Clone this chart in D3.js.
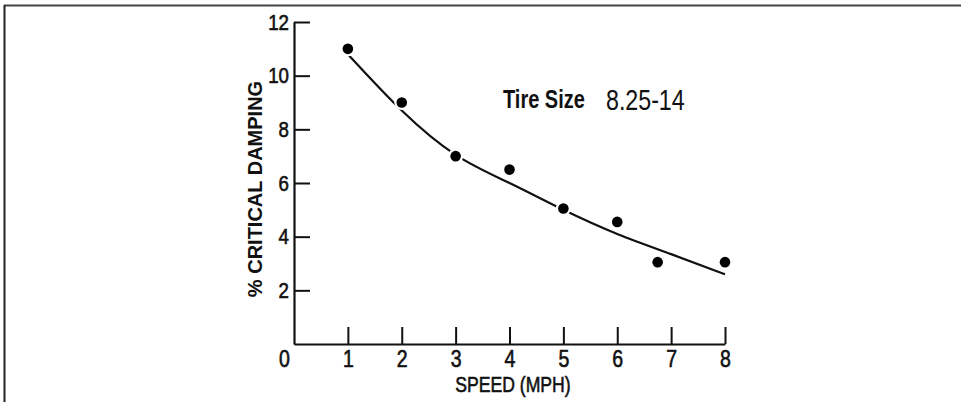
<!DOCTYPE html>
<html>
<head>
<meta charset="utf-8">
<script src="https://cdn.jsdelivr.net/npm/d3@7"></script>
<style>
  body { margin: 0; background: #fff; }
  text { fill: #111; }
</style>
</head>
<body>
<div id="grafico"></div>
<script>
// puntos medidos
const velocidades = [1, 2, 3, 4, 5, 6, 6.75, 8];
const amortiguamiento = [11, 9, 7, 6.5, 5.05, 4.55, 3.05, 3.05];

// curva ajustada
const curvaX = [1, 2, 3, 4, 5, 6, 7, 8];
const curvaY = [10.8, 8.7, 7.05, 6.0, 5.0, 4.1, 3.35, 2.6];

const ticksX = [0, 1, 2, 3, 4, 5, 6, 7, 8];
const ticksY = [2, 4, 6, 8, 10, 12];

const width = 961;
const height = 402;
const fuente = "'Liberation Sans', Arial, sans-serif";
const estrecho = 0.8; // imitamos una fuente "narrow"

const svg = d3.select("#grafico")
  .append("svg")
  .attr("width", width)
  .attr("height", height);

// marco
svg.append("line")
  .attr("x1", 4).attr("x2", width).attr("y1", 5.5).attr("y2", 5.5)
  .attr("stroke", "#444").attr("stroke-width", 2);
svg.append("line")
  .attr("x1", 4.5).attr("x2", 4.5).attr("y1", 5).attr("y2", height)
  .attr("stroke", "#222").attr("stroke-width", 2);

const x = d3.scaleLinear().domain([0, 8]).range([294, 725]);
const y = d3.scaleLinear().domain([0, 12]).range([344, 22]);

// texto estrecho en una posición
function textoEstrecho(tx, ty, s) {
  return svg.append("text")
    .attr("transform", `translate(${tx}, ${ty}) scale(${estrecho}, 1)`)
    .style("font-family", fuente)
    .text(s);
}

// eje X
const ejeX = svg.append("g")
  .attr("transform", `translate(0, ${y(0)})`)
  .call(d3.axisBottom(x).tickValues(ticksX).tickSizeInner(-17).tickSizeOuter(0).tickPadding(0).tickFormat(d3.format("d")));

ejeX.select(".domain").attr("stroke", "#111").attr("stroke-width", 2.2);
ejeX.selectAll(".tick line").attr("stroke", "#111").attr("stroke-width", 2);
ejeX.selectAll(".tick text")
  .attr("y", null).attr("dy", null)
  .attr("transform", d => `translate(${d === 0 ? -10 : 0}, 23) scale(0.85, 1)`)
  .style("font-family", fuente).style("font-size", "23px")
  .attr("fill", "#111").attr("stroke", "#111").attr("stroke-width", 0.6);
ejeX.selectAll(".tick").filter(d => d === 0).select("line").remove();

// eje Y
const ejeY = svg.append("g")
  .attr("transform", `translate(${x(0)}, 0)`)
  .call(d3.axisLeft(y).tickValues(ticksY).tickSizeInner(-16).tickSizeOuter(0).tickPadding(0));

ejeY.select(".domain").attr("stroke", "#111").attr("stroke-width", 2.2);
ejeY.selectAll(".tick line").attr("stroke", "#111").attr("stroke-width", 2);
ejeY.selectAll(".tick text")
  .attr("x", null)
  .attr("transform", `translate(-5, 0) scale(0.85, 1)`)
  .style("font-family", fuente).style("font-size", "22px")
  .attr("fill", "#111").attr("stroke", "#111").attr("stroke-width", 0.6);

// títulos
svg.append("text")
  .attr("transform", `translate(262, 189) rotate(-90)`)
  .attr("text-anchor", "middle")
  .style("font-family", fuente)
  .style("font-weight", "bold")
  .style("font-size", "20px")
  .text("% CRITICAL DAMPING");

textoEstrecho(513, 392, "SPEED (MPH)")
  .attr("text-anchor", "middle")
  .attr("stroke", "#111").attr("stroke-width", 0.6)
  .style("font-size", "22px");

// curva
const linea = d3.line()
  .x((d, i) => x(curvaX[i]))
  .y(d => y(d))
  .curve(d3.curveNatural);

svg.append("path")
  .datum(curvaY)
  .attr("d", linea)
  .attr("fill", "none")
  .attr("stroke", "#111")
  .attr("stroke-width", 2.2);

// halo blanco y puntos
svg.selectAll(".halo")
  .data(velocidades)
  .join("circle")
  .attr("class", "halo")
  .attr("cx", d => x(d))
  .attr("cy", (d, i) => y(amortiguamiento[i]))
  .attr("r", 7.5)
  .attr("fill", "#fff");

svg.selectAll(".punto")
  .data(velocidades)
  .join("circle")
  .attr("class", "punto")
  .attr("cx", d => x(d))
  .attr("cy", (d, i) => y(amortiguamiento[i]))
  .attr("r", 5.3)
  .attr("fill", "#000");

// etiqueta de neumático
textoEstrecho(503, 108, "Tire Size")
  .style("font-weight", "bold")
  .style("font-size", "25px");

textoEstrecho(606, 110, "8.25-14")
  .style("font-size", "29px");
</script>
</body>
</html>
